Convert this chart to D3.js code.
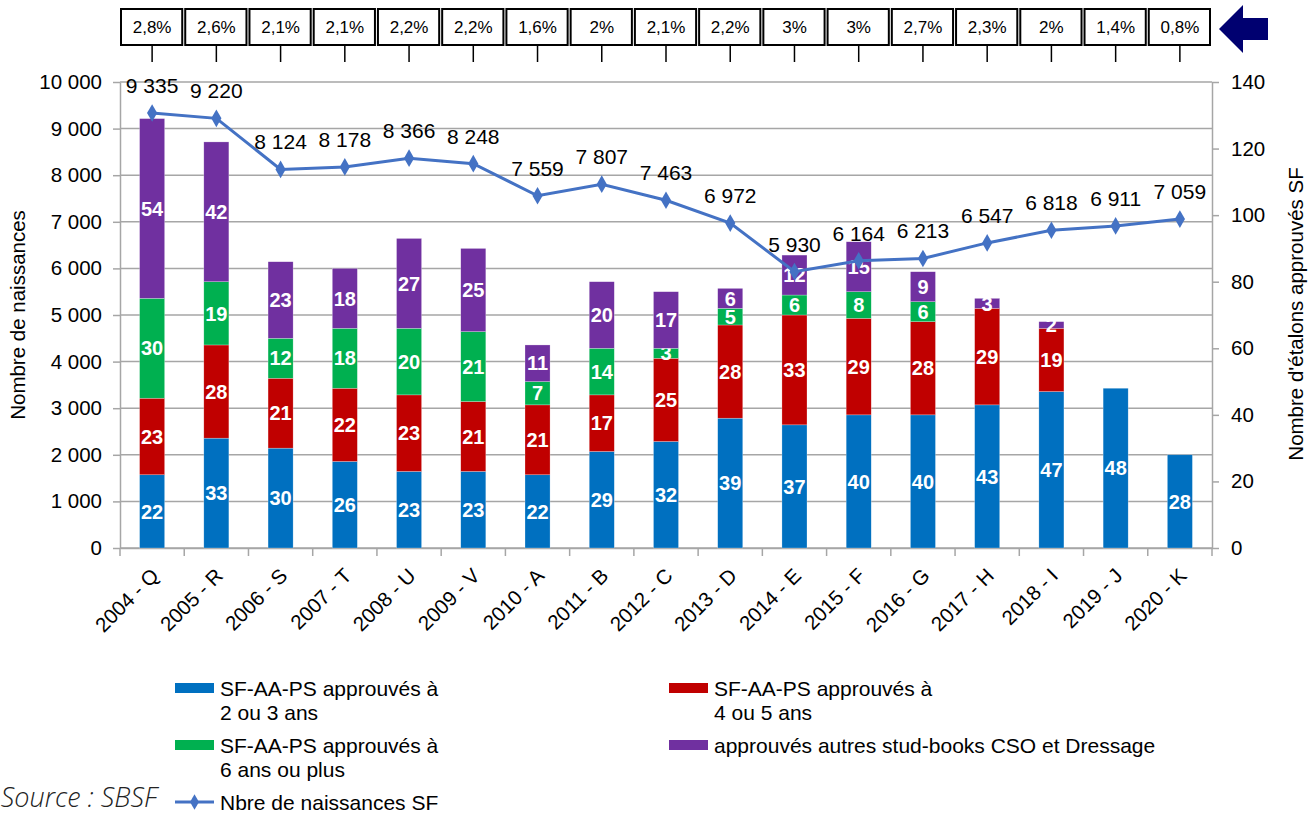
<!DOCTYPE html>
<html>
<head>
<meta charset="utf-8">
<script src="https://cdn.jsdelivr.net/npm/d3@7"></script>
<style>
	body { margin: 0; background: #fff; }
	svg text { font-family: 'Liberation Sans', Arial, sans-serif; }
</style>
</head>
<body>
<div class="chart"></div>
<script>
// données
const annees = ['2004 - Q', '2005 - R', '2006 - S', '2007 - T', '2008 - U', '2009 - V', '2010 - A', '2011 - B', '2012 - C', '2013 - D', '2014 - E', '2015 - F', '2016 - G', '2017 - H', '2018 - I', '2019 - J', '2020 - K'];
const naissances = [9335, 9220, 8124, 8178, 8366, 8248, 7559, 7807, 7463, 6972, 5930, 6164, 6213, 6547, 6818, 6911, 7059];
const pourcentages = ['2,8%', '2,6%', '2,1%', '2,1%', '2,2%', '2,2%', '1,6%', '2%', '2,1%', '2,2%', '3%', '3%', '2,7%', '2,3%', '2%', '1,4%', '0,8%'];
const approuves23 = [22, 33, 30, 26, 23, 23, 22, 29, 32, 39, 37, 40, 40, 43, 47, 48, 28];
const approuves45 = [23, 28, 21, 22, 23, 21, 21, 17, 25, 28, 33, 29, 28, 29, 19, 0, 0];
const approuves6 = [30, 19, 12, 18, 20, 21, 7, 14, 3, 5, 6, 8, 6, 0, 0, 0, 0];
const autresStudBooks = [54, 42, 23, 18, 27, 25, 11, 20, 17, 6, 12, 15, 9, 3, 2, 0, 0];
const ticksNaissances = [0, 1000, 2000, 3000, 4000, 5000, 6000, 7000, 8000, 9000, 10000];
const ticksEtalons = [0, 20, 40, 60, 80, 100, 120, 140];

const series = [
	{ key: 'a23', label: ['SF-AA-PS approuvés à', '2 ou 3 ans'], color: '#0070C0' },
	{ key: 'a45', label: ['SF-AA-PS approuvés à', '4 ou 5 ans'], color: '#C00000' },
	{ key: 'a6', label: ['SF-AA-PS approuvés à', '6 ans ou plus'], color: '#00B050' },
	{ key: 'autres', label: ['approuvés autres stud-books CSO et Dressage'], color: '#7030A0' },
];
const lineColor = '#4472C4';
const gridColor = '#A6A6A6';

const table = annees.map((a, i) => ({
	annee: a,
	a23: approuves23[i],
	a45: approuves45[i],
	a6: approuves6[i],
	autres: autresStudBooks[i],
}));

const width = 1311;
const height = 814;
const plotLeft = 120, plotRight = 1212, plotTop = 82, plotBottom = 548;

const fr = d3.formatLocale({ decimal: ',', thousands: ' ', grouping: [3], currency: ['', ' €'] });
const fmt = fr.format(',d');

const svg = d3.select('.chart').append('svg').attr('width', width).attr('height', height);

const x = d3.scaleBand().domain(annees).range([plotLeft, plotRight]);
const yL = d3.scaleLinear().domain([0, 10000]).range([plotBottom, plotTop]);
const yR = d3.scaleLinear().domain([0, 140]).range([plotBottom, plotTop]);
const barW = x.bandwidth() * 0.39;
const cx = a => x(a) + x.bandwidth() / 2;

// grille
svg.append('g')
	.selectAll('line')
	.data(ticksNaissances)
	.enter()
	.append('line')
	.attr('x1', plotLeft)
	.attr('x2', plotRight)
	.attr('y1', d => yL(d))
	.attr('y2', d => yL(d))
	.attr('stroke', gridColor)
	.attr('stroke-width', 1.5);

// axes
const axisL = svg.append('g')
	.attr('transform', `translate(${plotLeft},0)`)
	.call(d3.axisLeft(yL).tickValues(ticksNaissances).tickFormat(fmt).tickSizeInner(7).tickSizeOuter(0).tickPadding(11));
const axisR = svg.append('g')
	.attr('transform', `translate(${plotRight},0)`)
	.call(d3.axisRight(yR).tickValues(ticksEtalons).tickSizeInner(7).tickSizeOuter(0).tickPadding(12));
[axisL, axisR].forEach(g => {
	g.selectAll('path, line').attr('stroke', gridColor).attr('stroke-width', 1.5);
	g.selectAll('text').style('font-size', '20.5px').attr('fill', '#000');
});

const axisB = svg.append('g')
	.attr('transform', `translate(0,${plotBottom})`)
	.call(d3.axisBottom(x).tickSize(0).tickFormat(d => d));
axisB.select('.domain').attr('stroke', gridColor).attr('stroke-width', 1.5);
axisB.selectAll('.tick text')
	.attr('text-anchor', 'end')
	.attr('x', 0)
	.attr('y', 0)
	.attr('dy', 0)
	.attr('transform', 'translate(8,29) rotate(-45)')
	.style('font-size', '20.5px')
	.attr('fill', '#000');
axisB.selectAll('.sep')
	.data(annees.map(a => x(a)).concat([plotRight]))
	.enter()
	.append('line')
	.attr('class', 'sep')
	.attr('x1', d => d)
	.attr('x2', d => d)
	.attr('y1', 0)
	.attr('y2', 8)
	.attr('stroke', gridColor)
	.attr('stroke-width', 1.5);

// barres empilées
const stacked = d3.stack().keys(series.map(s => s.key))(table);
const layers = svg.append('g')
	.selectAll('g')
	.data(stacked)
	.enter()
	.append('g')
	.attr('fill', (d, i) => series[i].color);

layers.selectAll('rect')
	.data(d => d.filter(p => p[1] > p[0]))
	.enter()
	.append('rect')
	.attr('x', d => cx(d.data.annee) - barW / 2)
	.attr('width', barW)
	.attr('y', d => yR(d[1]))
	.attr('height', d => yR(d[0]) - yR(d[1]))
	.attr('stroke', 'rgba(255,255,255,0.5)')
	.attr('stroke-width', 0.5);

layers.selectAll('text')
	.data(d => d.filter(p => p[1] > p[0]))
	.enter()
	.append('text')
	.attr('x', d => cx(d.data.annee))
	.attr('y', d => yR((d[0] + d[1]) / 2))
	.attr('dy', '0.36em')
	.attr('text-anchor', 'middle')
	.attr('fill', '#fff')
	.style('font-size', '20px')
	.style('font-weight', 'bold')
	.text(d => d[1] - d[0]);

// courbe des naissances
const line = d3.line().x((d, i) => cx(annees[i])).y(d => yL(d));
svg.append('path')
	.datum(naissances)
	.attr('d', line)
	.attr('fill', 'none')
	.attr('stroke', lineColor)
	.attr('stroke-width', 3);

svg.append('g')
	.selectAll('path')
	.data(naissances)
	.enter()
	.append('path')
	.attr('d', d3.symbol().type(d3.symbolDiamond).size(90))
	.attr('transform', (d, i) => `translate(${cx(annees[i])},${yL(d)})`)
	.attr('fill', lineColor);

svg.append('g')
	.selectAll('text')
	.data(naissances)
	.enter()
	.append('text')
	.attr('x', (d, i) => cx(annees[i]))
	.attr('y', d => yL(d) - 20)
	.attr('text-anchor', 'middle')
	.style('font-size', '21px')
	.attr('fill', '#000')
	.text(d => fmt(d));

// bandeau des pourcentages
const bandeau = svg.append('g')
	.selectAll('g')
	.data(pourcentages)
	.enter()
	.append('g');
bandeau.append('rect')
	.attr('x', (d, i) => x(annees[i]) + 1)
	.attr('y', 9)
	.attr('width', x.bandwidth() - 3)
	.attr('height', 36)
	.attr('fill', '#fff')
	.attr('stroke', '#000')
	.attr('stroke-width', 2);
bandeau.append('text')
	.attr('x', (d, i) => cx(annees[i]))
	.attr('y', 27)
	.attr('dy', '0.36em')
	.attr('text-anchor', 'middle')
	.style('font-size', '17px')
	.attr('fill', '#000')
	.text(d => d);
bandeau.append('line')
	.attr('x1', (d, i) => cx(annees[i]))
	.attr('x2', (d, i) => cx(annees[i]))
	.attr('y1', 45)
	.attr('y2', 62)
	.attr('stroke', '#000')
	.attr('stroke-width', 1.5);

// flèche
svg.append('path')
	.attr('d', 'M1219,29 L1243,5 L1243,18 L1268,18 L1268,40 L1243,40 L1243,53 Z')
	.attr('fill', '#000070');

// titres des axes
svg.append('text')
	.attr('transform', 'translate(25,315) rotate(-90)')
	.attr('text-anchor', 'middle')
	.style('font-size', '20.5px')
	.text('Nombre de naissances');
svg.append('text')
	.attr('transform', 'translate(1303,314) rotate(-90)')
	.attr('text-anchor', 'middle')
	.style('font-size', '20.5px')
	.text("Nombre d'étalons approuvés SF");

// légende
const legendPos = [[175, 688], [669, 688], [175, 745], [669, 745]];
series.forEach((s, i) => {
	const [lx, ly] = legendPos[i];
	const g = svg.append('g').attr('transform', `translate(${lx},${ly})`);
	g.append('rect').attr('x', 0).attr('y', -5).attr('width', 39).attr('height', 10).attr('fill', s.color);
	g.selectAll('text')
		.data(s.label)
		.enter()
		.append('text')
		.attr('x', 45)
		.attr('y', (d, j) => j * 24)
		.attr('dy', '0.36em')
		.style('font-size', '21px')
		.text(d => d);
});
const lg = svg.append('g').attr('transform', 'translate(175,802)');
lg.append('line').attr('x1', 0).attr('x2', 39).attr('stroke', lineColor).attr('stroke-width', 3);
lg.append('path').attr('d', d3.symbol().type(d3.symbolDiamond).size(70)).attr('transform', 'translate(19.5,0)').attr('fill', lineColor);
lg.append('text').attr('x', 45).attr('dy', '0.36em').style('font-size', '21px').text('Nbre de naissances SF');

svg.append('text')
	.attr('x', 157)
	.attr('y', 797)
	.attr('dy', '0.36em')
	.attr('text-anchor', 'end')
	.style('font-family', "'Open Sans', sans-serif")
	.style('font-style', 'italic')
	.style('font-weight', 300)
	.style('font-size', '27px')
	.attr('fill', '#222')
	.text('Source : SBSF');
</script>
</body>
</html>
